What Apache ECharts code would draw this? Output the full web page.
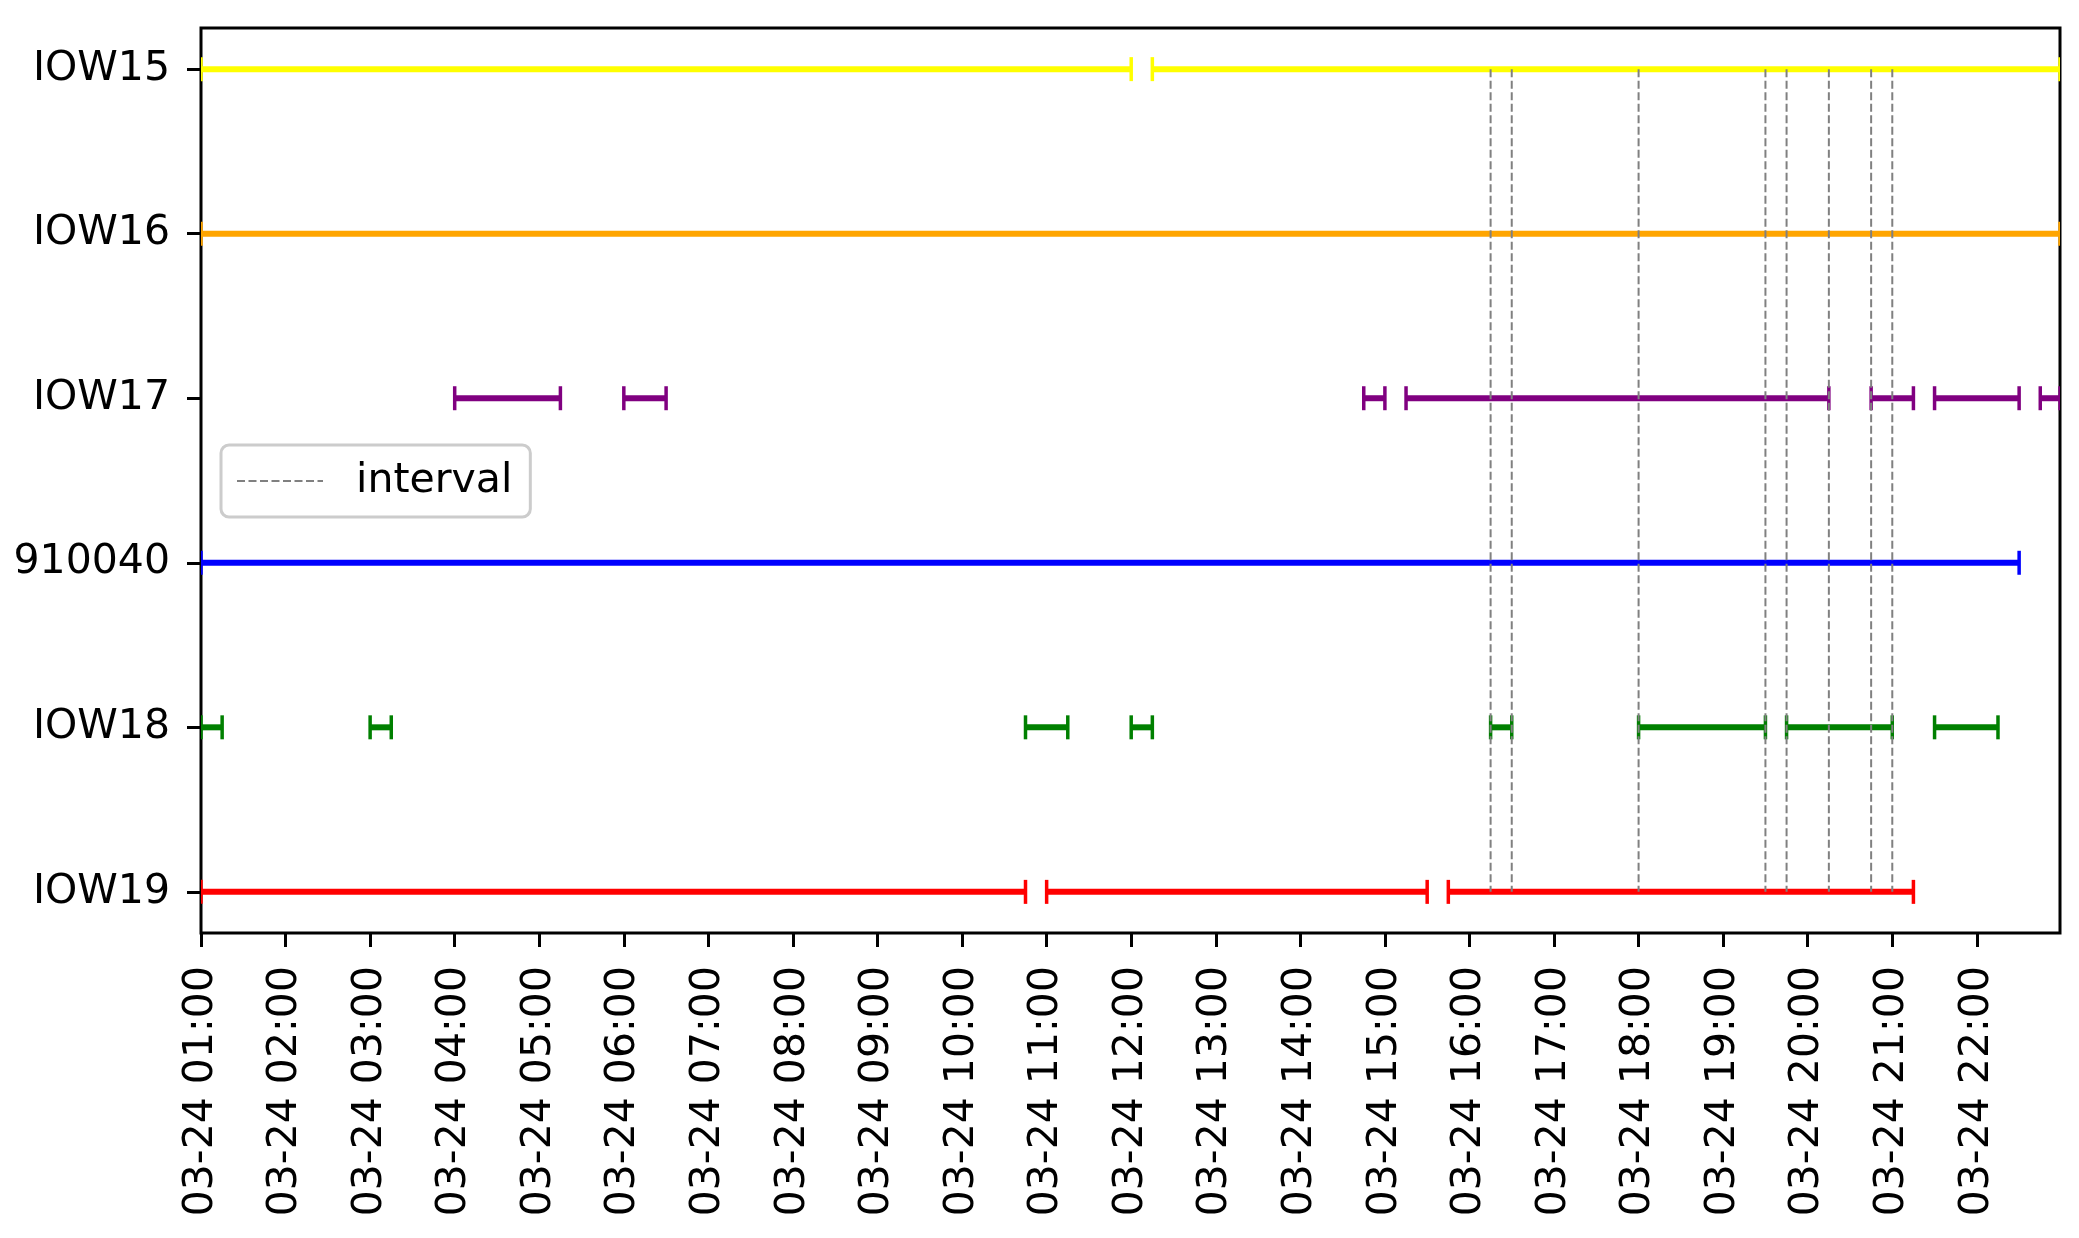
<!DOCTYPE html>
<html>
<head>
<meta charset="utf-8">
<script src="https://cdn.jsdelivr.net/npm/echarts@6/dist/echarts.min.js"></script>
<style>
  html, body { margin: 0; padding: 0; background: #fff; }
  #chart { width: 2079px; height: 1238px; }
</style>
</head>
<body>
<div id="chart"></div>
<script>
"use strict";

// rows top to bottom
var categories = ['IOW15', 'IOW16', 'IOW17', '910040', 'IOW18', 'IOW19'];

// [start, end] of each segment, 03-24
var iow15 = [['01:00', '12:00'], ['12:15', '22:59']];
var iow16 = [['01:00', '22:59']];
var iow17 = [['04:00', '05:15'], ['06:00', '06:30'], ['14:45', '15:00'], ['15:15', '20:15'],
             ['20:45', '21:15'], ['21:30', '22:30'], ['22:45', '22:59']];
var s910040 = [['01:00', '22:30']];
var iow18 = [['01:00', '01:15'], ['03:00', '03:15'], ['10:45', '11:15'], ['12:00', '12:15'],
             ['16:15', '16:30'], ['18:00', '19:30'], ['19:45', '21:00'], ['21:30', '22:15']];
var iow19 = [['01:00', '10:45'], ['11:00', '15:30'], ['15:45', '21:15']];

// dashed "interval" markers
var intervals = ['16:15', '16:30', '18:00', '19:30', '19:45', '20:15', '20:45', '21:00'];

// hour ticks on the x axis
var hourTicks = [1, 2, 3, 4, 5, 6, 7, 8, 9, 10, 11, 12, 13, 14, 15, 16, 17, 18, 19, 20, 21, 22];

var rows = [iow15, iow16, iow17, s910040, iow18, iow19];
var lineColors = ['#ffff00', '#ffa500', '#800080', '#0000ff', '#008000', '#ff0000'];

function toHour(s) {
  var p = s.split(':');
  return Number(p[0]) + Number(p[1]) / 60;
}
function pad(n) { return (n < 10 ? '0' : '') + n; }

var xMin = 1, xMax = 1;
rows.forEach(function (segs) {
  segs.forEach(function (s) { xMax = Math.max(xMax, toHour(s[1])); });
});

function renderSeg(params, api) {
  var y = api.value(2);
  var p0 = api.coord([api.value(0), y]);
  var p1 = api.coord([api.value(1), y]);
  var color = api.visual('color');
  var capH = 12;
  return {
    type: 'group',
    children: [
      { type: 'line', shape: { x1: p0[0], y1: p0[1], x2: p1[0], y2: p1[1] },
        style: { stroke: color, lineWidth: 6, lineCap: 'butt' } },
      { type: 'line', shape: { x1: p0[0], y1: p0[1] - capH, x2: p0[0], y2: p0[1] + capH },
        style: { stroke: color, lineWidth: 3.5 } },
      { type: 'line', shape: { x1: p1[0], y1: p1[1] - capH, x2: p1[0], y2: p1[1] + capH },
        style: { stroke: color, lineWidth: 3.5 } }
    ]
  };
}

var series = [];
rows.forEach(function (segs, i) {
  series.push({
    type: 'custom',
    name: categories[i],
    clip: true,
    renderItem: renderSeg,
    itemStyle: { color: lineColors[i] },
    encode: { x: [0, 1], y: 2 },
    data: segs.map(function (s) { return [toHour(s[0]), toHour(s[1]), i]; }),
    z: 2
  });
});
intervals.forEach(function (t) {
  series.push({
    type: 'line',
    name: 'interval',
    symbol: 'none',
    silent: true,
    lineStyle: { color: '#808080', width: 2, type: [8, 3.5] },
    data: [[toHour(t), 0], [toHour(t), categories.length - 1]],
    z: 5
  });
});

var font = 'DejaVu Sans';
var myChart = echarts.init(document.getElementById('chart'), null, { renderer: 'canvas' });
var option = {
  animation: false,
  backgroundColor: '#ffffff',
  textStyle: { fontFamily: font },
  grid: {
    left: 201, right: 19, top: 28, bottom: 305,
    show: true, borderColor: '#000', borderWidth: 3, backgroundColor: 'transparent'
  },
  legend: {
    data: ['interval'],
    left: 221, top: 445,
    orient: 'vertical',
    padding: [14, 18, 14, 15],
    itemWidth: 86, itemHeight: 14,
    backgroundColor: 'rgba(255,255,255,0.8)',
    borderColor: '#cccccc', borderWidth: 3, borderRadius: 8,
    selectedMode: false,
    itemStyle: { color: 'rgba(0,0,0,0)', borderColor: 'rgba(0,0,0,0)', borderWidth: 0, opacity: 0 },
    textStyle: { fontFamily: font, fontSize: 41, color: '#000', lineHeight: 44, padding: [0, 0, 0, 28] }
  },
  xAxis: {
    type: 'value',
    min: xMin, max: xMax,
    axisLine: { show: false, onZero: false },
    splitLine: { show: false },
    axisTick: { show: true, length: 14, customValues: hourTicks,
                lineStyle: { color: '#000', width: 3 } },
    axisLabel: {
      customValues: hourTicks,
      rotate: 90, margin: 33,
      fontFamily: font, fontSize: 41, color: '#000',
      formatter: function (v) { return '03-24 ' + pad(Math.round(v)) + ':00'; }
    }
  },
  yAxis: {
    type: 'value',
    inverse: true,
    min: -0.25, max: categories.length - 0.75,
    axisLine: { show: false, onZero: false },
    splitLine: { show: false },
    axisTick: { show: true, length: 14, customValues: [0, 1, 2, 3, 4, 5],
                lineStyle: { color: '#000', width: 3 } },
    axisLabel: {
      customValues: [0, 1, 2, 3, 4, 5],
      margin: 31,
      fontFamily: font, fontSize: 41, color: '#000',
      formatter: function (v) { return categories[Math.round(v)] || ''; }
    }
  },
  series: series
};
myChart.setOption(option);
</script>
</body>
</html>
